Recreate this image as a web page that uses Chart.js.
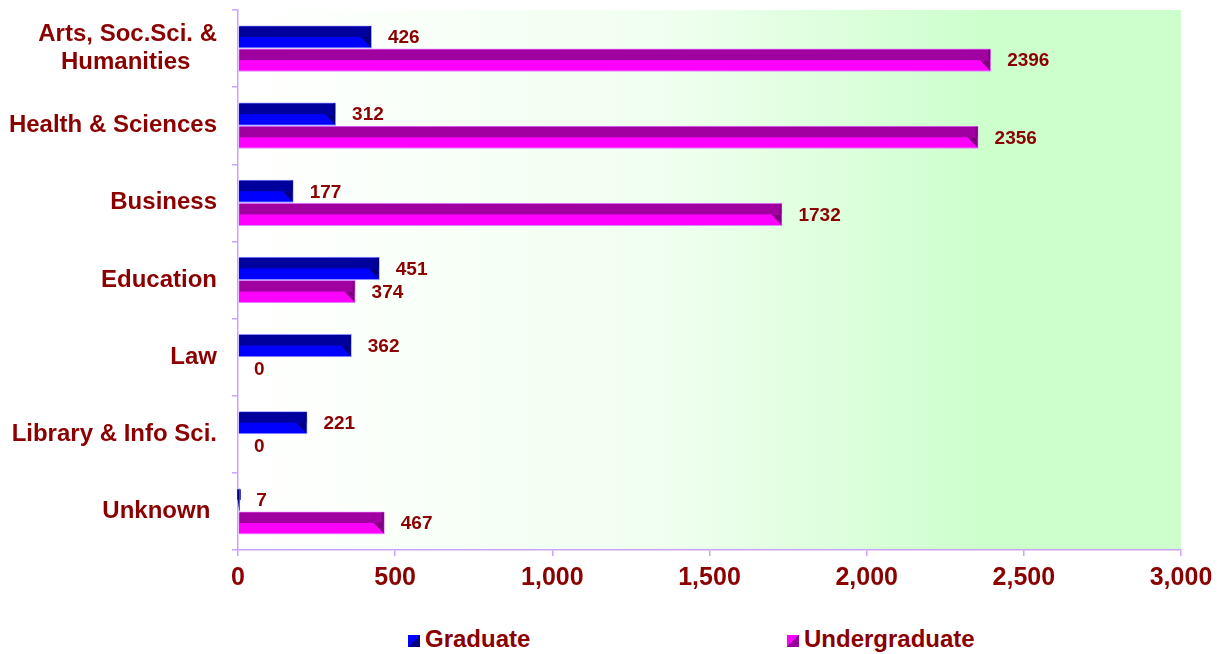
<!DOCTYPE html>
<html>
<head>
<meta charset="utf-8">
<title>Enrollment by College</title>
<script src="https://cdn.jsdelivr.net/npm/chart.js@4.4.1/dist/chart.umd.min.js"></script>
<style>
  body { margin: 0; background: #fff; font-family: "Liberation Sans", Arial, sans-serif; }
  #wrap { position: relative; width: 1223px; height: 654px; }
  #box { position: absolute; left: 0; top: 0; width: 1223px; height: 610px; }
  .legend-item { position: absolute; top: 625px; font-weight: bold; font-size: 24px; color: #8b0000; line-height: 27px; }
  .legend-item i { display: inline-block; width: 12px; height: 12px; margin-right: 5px; vertical-align: 0px; }
</style>
</head>
<body>
<div id="wrap">
  <div id="box"><canvas id="chart"></canvas></div>
  <div class="legend-item" style="left:408px"><i style="background:linear-gradient(135deg,#0000ff 50%,#000080 50%)"></i>Graduate</div>
  <div class="legend-item" style="left:787px"><i style="background:linear-gradient(135deg,#ff00ff 50%,#990099 50%)"></i>Undergraduate</div>
</div>
<script>
const colleges = [
  ['Arts, Soc.Sci. &', 'Humanities    '],
  'Health & Sciences',
  'Business',
  'Education',
  'Law',
  'Library & Info Sci.',
  'Unknown '
];
const graduate = [426, 312, 177, 451, 362, 221, 7];
const undergraduate = [2396, 2356, 1732, 374, 0, 0, 467];
const xTicks = [0, 500, 1000, 1500, 2000, 2500, 3000];

const labelColor = '#8b0000';
const axisColor = '#c9a3ff';
const fontFamily = '"Liberation Sans", Arial, sans-serif';

// plot area fill: white fading to pale green
const plotBackground = {
  id: 'plotBackground',
  beforeDraw(chart) {
    const { ctx, chartArea: a } = chart;
    const g = ctx.createLinearGradient(a.left, 0, a.right, 0);
    g.addColorStop(0, '#ffffff');
    g.addColorStop(0.45, '#f0fff0');
    g.addColorStop(0.8, '#ccffcc');
    g.addColorStop(1, '#ccffcc');
    ctx.save();
    ctx.fillStyle = g;
    ctx.fillRect(a.left, a.top, a.right - a.left, a.bottom - a.top);
    ctx.restore();
  }
};

// fake 3d look: darker upper half and a bevelled end on each bar
const bevel = {
  id: 'bevel',
  afterDatasetsDraw(chart) {
    const ctx = chart.ctx;
    ctx.save();
    chart.data.datasets.forEach((ds, i) => {
      chart.getDatasetMeta(i).data.forEach(bar => {
        const { x, y, base, height } = bar.getProps(['x', 'y', 'base', 'height'], true);
        const w = x - base;
        if (w < 1) return;
        const top = y - height / 2 + 1;
        const bot = y + height / 2 - 1;
        const d = Math.min(10, w);
        const r = x - 1;
        ctx.fillStyle = ds.topColor;
        ctx.fillRect(base + 1, top, Math.max(w - 2, 1), y - top);
        ctx.fillStyle = ds.sideColor;
        ctx.beginPath();
        ctx.moveTo(r - d, y);
        ctx.lineTo(r, y);
        ctx.lineTo(r, bot);
        ctx.closePath();
        ctx.fill();
        ctx.fillRect(r - 2, top, 2, y - top);
      });
    });
    ctx.restore();
  }
};

// value labels right of each bar
const valueLabels = {
  id: 'valueLabels',
  afterDatasetsDraw(chart) {
    const ctx = chart.ctx;
    ctx.save();
    ctx.font = 'bold 19px ' + fontFamily;
    ctx.fillStyle = labelColor;
    ctx.textAlign = 'left';
    ctx.textBaseline = 'middle';
    chart.data.datasets.forEach((ds, i) => {
      chart.getDatasetMeta(i).data.forEach((bar, j) => {
        ctx.fillText(String(ds.data[j]), bar.x + 16, bar.y + 1);
      });
    });
    ctx.restore();
  }
};

new Chart(document.getElementById('chart'), {
  type: 'bar',
  data: {
    labels: colleges,
    datasets: [
      {
        label: 'Graduate',
        data: graduate,
        backgroundColor: '#0000ff',
        borderColor: '#8c8cff',
        borderWidth: 1,
        topColor: '#00009c',
        sideColor: '#000080',
        categoryPercentage: 0.6,
        barPercentage: 1.0
      },
      {
        label: 'Undergraduate',
        data: undergraduate,
        backgroundColor: '#ff00ff',
        borderColor: '#d68cff',
        borderWidth: 1,
        topColor: '#a000a0',
        sideColor: '#800080',
        categoryPercentage: 0.6,
        barPercentage: 1.0
      }
    ]
  },
  options: {
    indexAxis: 'y',
    responsive: true,
    maintainAspectRatio: false,
    animation: false,
    layout: { padding: { top: 10, right: 42, bottom: 0, left: 0 } },
    plugins: {
      legend: { display: false },
      tooltip: { enabled: false }
    },
    scales: {
      x: {
        min: 0,
        max: 3000,
        afterBuildTicks: (scale) => { scale.ticks = xTicks.map(v => ({ value: v })); },
        afterFit: (scale) => { scale.height = 60; },
        border: { color: axisColor, width: 1.5 },
        grid: { drawOnChartArea: false, color: axisColor, tickLength: 6, lineWidth: 1.5 },
        ticks: {
          padding: 7,
          color: labelColor,
          font: { family: fontFamily, size: 25, weight: 'bold', lineHeight: 1.2 },
          callback: (v) => Number(v).toLocaleString('en-US')
        }
      },
      y: {
        afterFit: (scale) => {
          scale.width = 238;
          scale.paddingTop = 0;
          scale.paddingBottom = 0;
        },
        border: { color: axisColor, width: 1.5 },
        grid: { drawOnChartArea: false, color: axisColor, tickLength: 6, lineWidth: 1.5 },
        ticks: {
          padding: 15,
          color: labelColor,
          font: { family: fontFamily, size: 24, weight: 'bold', lineHeight: 1.15 }
        }
      }
    }
  },
  plugins: [plotBackground, bevel, valueLabels]
});
</script>
</body>
</html>
